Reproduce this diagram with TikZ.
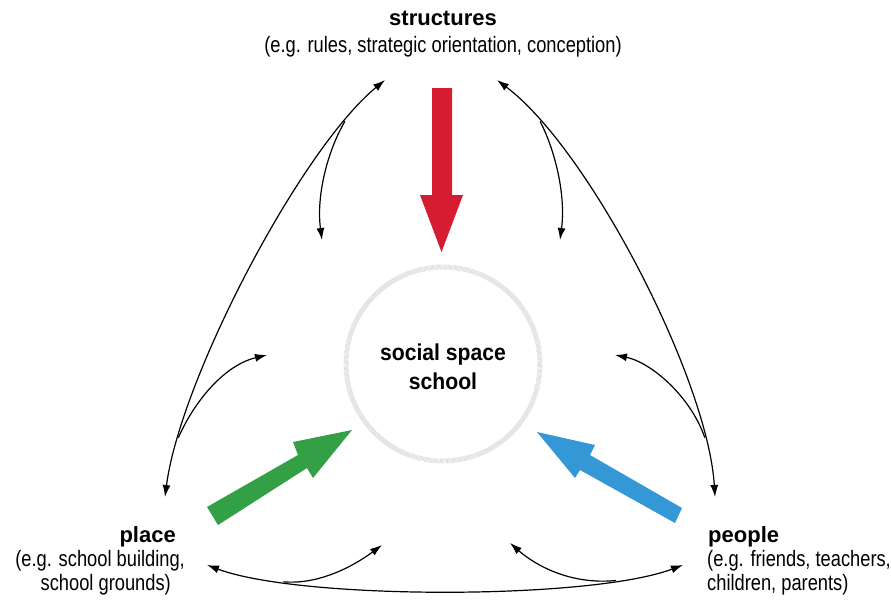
\documentclass[tikz,border=0pt]{standalone}
\usepackage{fontspec}
\setmainfont{Liberation Sans}
\newfontfamily\narrowfont{Liberation Sans}[FakeStretch=0.82]
\newfontfamily\centrefont{Liberation Sans}[FakeStretch=0.92]
\usetikzlibrary{arrows.meta}
\definecolor{cred}{RGB}{214,28,48}
\definecolor{cgreen}{RGB}{52,160,70}
\definecolor{cblue}{RGB}{52,152,214}
\tikzset{
  head/.style={font=\fontsize{22}{26}\selectfont\bfseries, inner sep=0pt},
  sub/.style={font=\narrowfont\fontsize{22.3}{27}\selectfont, inner sep=0pt},
  link/.style={line width=1.2pt, black},
  tipL/.style={-{Latex[length=12pt,width=8pt]}},
  tipB/.style={{Latex[length=12pt,width=8pt]}-{Latex[length=12pt,width=8pt]}},
}
\begin{document}
\begin{tikzpicture}[x=1pt,y=-1pt]
\useasboundingbox (0,0) rectangle (891,600);
% texts
\node[head, anchor=base] (st) at (443,25) {structures};
\node[sub, anchor=base] (st1) at (443,52) {(e.g. rules, strategic orientation, conception)};
\node[head, anchor=base east] (pl) at (176,542) {place};
\node[sub, anchor=base east] (pl1) at (185,566) {(e.g. school building,};
\node[sub, anchor=base east] (pl2) at (171,590) {school grounds)};
\node[head, anchor=base west] (pe) at (708,542) {people};
\node[sub, anchor=base west] (pe1) at (707,566) {(e.g. friends, teachers,};
\node[sub, anchor=base west] (pe2) at (707,590) {children, parents)};
% circle
\draw[gray!28, line width=5pt, dash pattern=on 0.6pt off 0.6pt] (443,364) circle[radius=97];
\node[circle, minimum size=194pt, inner sep=0pt] (c) at (443,364) {};
\node[inner sep=0pt, font=\centrefont\fontsize{23}{29}\selectfont\bfseries, align=center] (cs) at (443,367) {social space\\school};
% thick arrows
\fill[cred] (432,88) -- (452,88) -- (452,195) -- (463,195) -- (441.5,252) -- (420,195) -- (432,195) -- cycle;
\fill[cgreen] (207,507) -- (298,455) -- (293,442) -- (352,430) -- (313,478) -- (307,468) -- (218,525) -- cycle;
\fill[cblue] (537,432) -- (595,445) -- (590,455) -- (682,508) -- (675,523) -- (580,470) -- (575,478) -- cycle;
% endpoints
\coordinate (L1) at (385,80);
\coordinate (L2) at (165,497);
\coordinate (R1) at (497,80);
\coordinate (R2) at (715,497);
\coordinate (B1) at (207,565);
\coordinate (B2) at (683,565);
\coordinate (tLT) at (322,240);
\coordinate (tLB) at (267,355);
\coordinate (tRT) at (560,240);
\coordinate (tRB) at (615,355);
\coordinate (tBL) at (382,545);
\coordinate (tBR) at (510,543);
% long curves
\draw[link, tipB] (L1) .. controls (300,150) and (180,380) .. (L2)
   coordinate[pos=0.15] (sLT) coordinate[pos=0.85] (sLB);
\draw[link, tipB] (R1) .. controls (590,150) and (708,380) .. (R2)
   coordinate[pos=0.15] (sRT) coordinate[pos=0.85] (sRB);
\draw[link, tipB] (B1) .. controls (300,600) and (590,600) .. (B2)
   coordinate[pos=0.2] (sBL) coordinate[pos=0.82] (sBR);
% branches
\draw[link, tipL] (sLT) .. controls (328,150) and (316,195) .. (tLT);
\draw[link, tipL] (sLB) .. controls (195,400) and (225,365) .. (tLB);
\draw[link, tipL] (sRT) .. controls (555,150) and (566,195) .. (tRT);
\draw[link, tipL] (sRB) .. controls (690,395) and (650,362) .. (tRB);
\draw[link, tipL] (sBL) .. controls (320,585) and (355,565) .. (tBL);
\draw[link, tipL] (sBR) .. controls (570,585) and (535,565) .. (tBR);
\end{tikzpicture}
\end{document}
